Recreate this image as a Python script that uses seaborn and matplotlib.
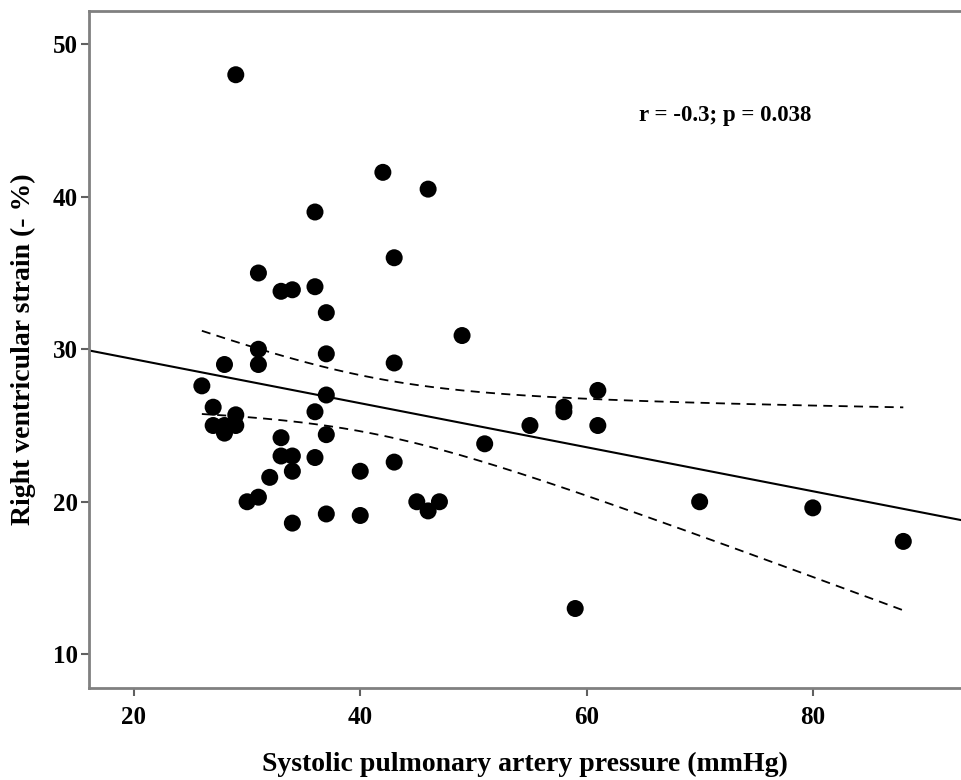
import numpy as np
import pandas as pd
import matplotlib
matplotlib.use("Agg")
import matplotlib.pyplot as plt
import seaborn as sns

# Data
spap = [29, 42, 46, 36, 43, 31, 33, 34, 36, 37, 49, 31, 37, 28, 31, 43, 26, 61, 37,
        58, 58, 27, 36, 29, 27, 28, 29, 28, 55, 61, 37, 33, 51, 33, 34, 36, 43, 40,
        34, 32, 30, 31, 45, 47, 46, 70, 80, 88, 37, 40, 34, 59]
rv_strain = [48.0, 41.6, 40.5, 39.0, 36.0, 35.0, 33.8, 33.9, 34.1, 32.4, 30.9, 30.0,
             29.7, 29.0, 29.0, 29.1, 27.6, 27.3, 27.0, 26.2, 25.9, 26.2, 25.9, 25.7,
             25.0, 25.0, 25.0, 24.5, 25.0, 25.0, 24.4, 24.2, 23.8, 23.0, 23.0, 22.9,
             22.6, 22.0, 22.0, 21.6, 20.0, 20.3, 20.0, 20.0, 19.4, 20.0, 19.6, 17.4,
             19.2, 19.1, 18.6, 13.0]
x_ticks = [20, 40, 60, 80]
y_ticks = [10, 20, 30, 40, 50]
annotation = "r = -0.3; p = 0.038"
x_label = "Systolic pulmonary artery pressure (mmHg)"
y_label = "Right ventricular strain (- %)"

df = pd.DataFrame({"x": spap, "y": rv_strain})

sns.set_theme(style="white")
plt.rcParams["font.family"] = ["Liberation Serif", "DejaVu Serif"]
plt.rcParams["text.color"] = "black"
plt.rcParams["axes.labelcolor"] = "black"

fig = plt.figure(figsize=(9.61, 7.8), dpi=100)
ax = fig.add_axes([0.0929, 0.1176, 0.9071, 0.8683])

xlim = (16.05, 93.1)
ylim = (7.77, 52.18)

# Linear fit and 95% CI of mean
x = df["x"].to_numpy(float)
y = df["y"].to_numpy(float)
n = len(x)
slope, intercept = np.polyfit(x, y, 1)
resid = y - (slope * x + intercept)
s = np.sqrt(np.sum(resid ** 2) / (n - 2))
xm = x.mean()
sxx = np.sum((x - xm) ** 2)
t = 2.01

xs_full = np.linspace(xlim[0] - 1, xlim[1] + 1, 200)
fit_df = pd.DataFrame({"x": xs_full, "y": slope * xs_full + intercept})
xs_ci = np.linspace(x.min(), x.max(), 200)
se = s * np.sqrt(1 / n + (xs_ci - xm) ** 2 / sxx)
ci_df = pd.DataFrame({"x": xs_ci,
                      "lo": slope * xs_ci + intercept - t * se,
                      "hi": slope * xs_ci + intercept + t * se})

sns.lineplot(data=fit_df, x="x", y="y", color="black", lw=1.5, ax=ax)
for col in ["lo", "hi"]:
    sns.lineplot(data=ci_df, x="x", y=col, color="black", lw=1.3,
                 linestyle=(0, (5, 3.5)), ax=ax)
sns.scatterplot(data=df, x="x", y="y", s=150, color="black", edgecolor="none",
                ax=ax, zorder=3)

ax.set_xlim(*xlim)
ax.set_ylim(*ylim)
ax.set_xticks(x_ticks)
ax.set_yticks(y_ticks)
ax.set_xticklabels([str(v) for v in x_ticks], fontsize=18, fontweight="bold")
ax.set_yticklabels([str(v) for v in y_ticks], fontsize=18, fontweight="bold")
ax.tick_params(axis="both", direction="out", length=6, width=1.5, color="#606060",
               pad=2, labelcolor="black", bottom=True, left=True)
ax.tick_params(axis="x", pad=7)
for side in ["left", "bottom", "top"]:
    ax.spines[side].set_color("#808080")
    ax.spines[side].set_linewidth(2)
ax.spines["right"].set_visible(False)

ax.set_xlabel(x_label, fontsize=20, fontweight="bold", labelpad=16, color="black")
ax.set_ylabel(y_label, fontsize=20, fontweight="bold", labelpad=12, color="black")

ax.text(72.3, 45.3, annotation, fontsize=16.5, fontweight="bold", ha="center",
        va="center", color="black")

fig.savefig("out.png", dpi=100)
